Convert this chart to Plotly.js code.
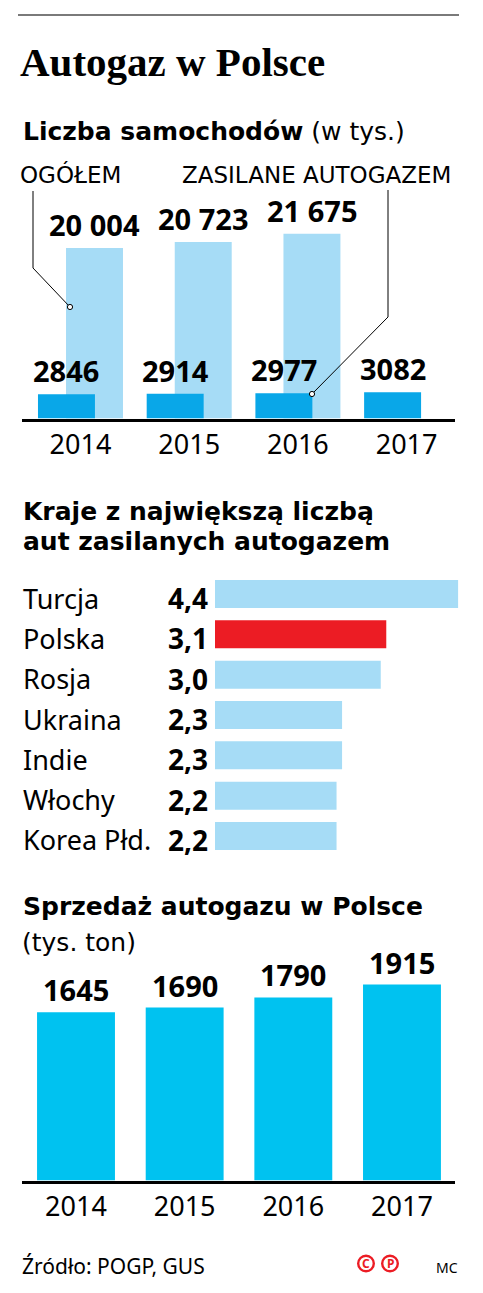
<!DOCTYPE html>
<html>
<head>
<meta charset="utf-8">
<script src="https://cdn.plot.ly/plotly-3.0.1.min.js"></script>
<style>
html,body{margin:0;padding:0;background:#fff;}
#chart{width:483px;height:1293px;}
</style>
</head>
<body>
<div id="chart"></div>
<script>
// ---------- DATA ----------
const years = ['2014', '2015', '2016', '2017'];
const carsTotal = [20004, 20723, 21675, null];      // ogółem (tys.)
const carsLpg = [2846, 2914, 2977, 3082];           // zasilane autogazem (tys.)
const countries = ['Turcja', 'Polska', 'Rosja', 'Ukraina', 'Indie', 'Włochy', 'Korea Płd.'];
const lpgCars = [4.4, 3.1, 3.0, 2.3, 2.3, 2.2, 2.2]; // mln aut
const highlightCountry = 'Polska';
const salesYears = ['2014', '2015', '2016', '2017'];
const lpgSales = [1645, 1690, 1790, 1915];          // tys. ton

// ---------- STYLE ----------
const W = 483, H = 1293;
const px = x => x / W;
const py = y => 1 - y / H;
const LIGHT = '#a6dcf6', DARK = '#09a7e8', CYAN = '#00c2f0', RED = '#ec1c24';
const SANS = 'Noto Sans', HEAD = 'DejaVu Sans', SERIF = 'Liberation Serif';

const fmtBig = v => v >= 10000 ? String(v).replace(/\B(?=(\d{3})+(?!\d))/g, ' ') : String(v);
const fmtDec = v => v.toFixed(1).replace('.', ',');

const BW1 = 0.524, OFF_DARK = -0.391, OFF_LIGHT = -0.133;

const traces = [
  {type: 'bar', x: years, y: carsTotal, xaxis: 'x', yaxis: 'y', width: BW1, offset: OFF_LIGHT,
   marker: {color: LIGHT}, hoverinfo: 'skip'},
  {type: 'bar', x: years, y: carsLpg, xaxis: 'x', yaxis: 'y', width: BW1, offset: OFF_DARK,
   marker: {color: DARK}, hoverinfo: 'skip'},
  {type: 'bar', orientation: 'h', y: countries, x: lpgCars, xaxis: 'x2', yaxis: 'y2', width: 0.694,
   marker: {color: countries.map(c => c === highlightCountry ? RED : LIGHT)}, hoverinfo: 'skip'},
  {type: 'bar', x: salesYears, y: lpgSales, xaxis: 'x3', yaxis: 'y3', width: 0.717,
   marker: {color: CYAN}, hoverinfo: 'skip'}
];

const ann = [];
function txt(x, y, text, size, family, extra) {
  ann.push(Object.assign({xref: 'paper', yref: 'paper', x: px(x), y: py(y), text: text,
    showarrow: false, xanchor: 'left', yanchor: 'middle',
    font: {family: family, size: size, color: '#000'}}, extra || {}));
}
txt(18, 62, '<b>Autogaz w Polsce</b>', 41, SERIF);
txt(21, 131.5, '<b>Liczba samochodów</b> (w tys.)', 25, HEAD);
txt(18, 175, 'OGÓŁEM', 23, HEAD);
txt(180, 175, 'ZASILANE AUTOGAZEM', 23, HEAD);
txt(21, 511, '<b>Kraje z największą liczbą</b>', 25, HEAD);
txt(21, 542, '<b>aut zasilanych autogazem</b>', 25, HEAD);
txt(21, 906, '<b>Sprzedaż autogazu w Polsce</b>', 25, HEAD);
txt(20, 942, '(tys. ton)', 25, HEAD);
txt(20, 1265.5, 'Źródło: POGP, GUS', 21, SANS);
txt(434, 1267, 'MC', 14, SANS);

// value labels, chart 1
years.forEach((yr, i) => {
  if (carsTotal[i] != null) {
    ann.push({xref: 'x', yref: 'y', x: i + OFF_LIGHT + BW1 / 2, y: carsTotal[i], text: '<b>' + fmtBig(carsTotal[i]) + '</b>',
      showarrow: false, xanchor: 'center', yanchor: 'bottom', yshift: 2,
      font: {family: SANS, size: 29, color: '#000'}});
  }
  ann.push({xref: 'x', yref: 'y', x: i + OFF_DARK + BW1 / 2, y: carsLpg[i], text: '<b>' + fmtBig(carsLpg[i]) + '</b>',
    showarrow: false, xanchor: 'center', yanchor: 'bottom', yshift: 2,
    font: {family: SANS, size: 29, color: '#000'}});
});
// chart 2 labels
countries.forEach((c, i) => {
  ann.push({xref: 'paper', yref: 'y2', x: px(21), y: c, text: c, showarrow: false,
    xanchor: 'left', yanchor: 'middle', yshift: -4, font: {family: SANS, size: 27, color: '#000'}});
  ann.push({xref: 'x2', yref: 'y2', x: 0, y: c, text: '<b>' + fmtDec(lpgCars[i]) + '</b>', showarrow: false,
    xanchor: 'right', yanchor: 'middle', xshift: -5, yshift: -4, font: {family: SANS, size: 28, color: '#000'}});
});
// chart 3 labels
salesYears.forEach((yr, i) => {
  ann.push({xref: 'x3', yref: 'y3', x: i, y: lpgSales[i], text: '<b>' + fmtBig(lpgSales[i]) + '</b>',
    showarrow: false, xanchor: 'center', yanchor: 'bottom', yshift: 1,
    font: {family: SANS, size: 29, color: '#000'}});
});
// copyright letters
ann.push({xref: 'paper', yref: 'paper', x: px(366), y: py(1263.5), text: '<b>C</b>', showarrow: false,
  xanchor: 'center', yanchor: 'middle', font: {family: SANS, size: 12, color: RED}});
ann.push({xref: 'paper', yref: 'paper', x: px(390), y: py(1263.5), text: '<b>P</b>', showarrow: false,
  xanchor: 'center', yanchor: 'middle', font: {family: SANS, size: 12, color: RED}});

function path(pts) {
  return pts.map((p, i) => (i ? 'L ' : 'M ') + px(p[0]) + ',' + py(p[1])).join(' ');
}
function circ(cx, cy, r, lc, lw) {
  return {type: 'circle', xref: 'paper', yref: 'paper', x0: px(cx - r), x1: px(cx + r), y0: py(cy + r), y1: py(cy - r),
    fillcolor: '#fff', line: {color: lc, width: lw}};
}
const shapes = [
  {type: 'line', xref: 'paper', yref: 'paper', x0: px(18), x1: px(459), y0: py(15), y1: py(15), line: {color: '#7a7a7a', width: 2}},
  {type: 'path', xref: 'paper', yref: 'paper', path: path([[33, 191], [33, 268], [70, 307]]), line: {color: '#000', width: 1}},
  {type: 'path', xref: 'paper', yref: 'paper', path: path([[388, 190], [388, 317], [312, 394]]), line: {color: '#000', width: 1}},
  circ(70, 307, 2.6, '#000', 1),
  circ(312, 394, 2.6, '#000', 1),
  circ(366, 1263.5, 7.8, RED, 2.4),
  circ(390, 1263.5, 7.8, RED, 2.4)
];

const catAxis = (dom, range, anchor) => ({
  domain: dom, range: range, anchor: anchor, type: 'category', showline: true, linecolor: '#000', linewidth: 3,
  showgrid: false, zeroline: false, ticks: '', tickfont: {family: SANS, size: 27, color: '#000'}, fixedrange: true
});
const hidden = (dom, range, anchor, extra) => Object.assign({domain: dom, range: range, anchor: anchor, visible: false,
  showgrid: false, zeroline: false, fixedrange: true}, extra || {});

const layout = {
  width: W, height: H, margin: {l: 0, r: 0, t: 0, b: 0}, paper_bgcolor: '#fff', plot_bgcolor: 'rgba(0,0,0,0)',
  showlegend: false, barmode: 'overlay', font: {family: SANS, color: '#000'},
  xaxis: catAxis([px(22), px(455)], [-0.538, 3.445], 'y'),
  yaxis: hidden([py(418.5), py(198.5)], [0, 220 / 0.00852], 'x'),
  xaxis2: hidden([px(215), px(460)], [0, 245 / 55.25], 'y2'),
  yaxis2: hidden([py(856.15), py(573.85)], [6.5, -0.5], 'x2', {type: 'category'}),
  xaxis3: catAxis([px(22), px(455)], [-0.497, 3.488], 'y3'),
  yaxis3: hidden([py(1180.5), py(960)], [0, 220.5 / 0.1023], 'x3'),
  annotations: ann, shapes: shapes
};

Plotly.newPlot('chart', traces, layout, {staticPlot: true, displayModeBar: false});
</script>
</body>
</html>
